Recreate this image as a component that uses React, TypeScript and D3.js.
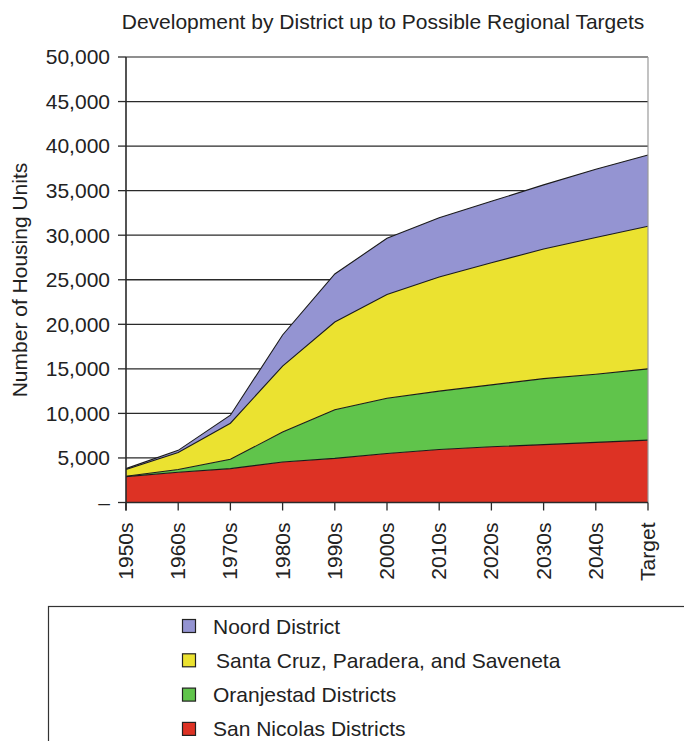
import React from "react";
import * as d3 from "d3";

const periods = ["1950s", "1960s", "1970s", "1980s", "1990s", "2000s", "2010s", "2020s", "2030s", "2040s", "Target"];

// Housing units added per district, by period (stacked bottom to top)
const sanNicolas = [2900, 3400, 3800, 4550, 4950, 5500, 5950, 6250, 6500, 6750, 7000];
const oranjestad = [50, 300, 1050, 3350, 5450, 6200, 6550, 6950, 7400, 7650, 8000];
const santaCruz = [750, 1900, 4050, 7400, 9850, 11650, 12800, 13700, 14550, 15350, 16000];
const noord = [100, 250, 900, 3500, 5400, 6300, 6650, 6900, 7200, 7650, 8000];

const yTicks = [0, 5000, 10000, 15000, 20000, 25000, 30000, 35000, 40000, 45000, 50000];

const seriesKeys = ["sanNicolas", "oranjestad", "santaCruz", "noord"];
const seriesNames: Record<string, string> = {
  noord: "Noord District",
  santaCruz: "Santa Cruz, Paradera, and Saveneta",
  oranjestad: "Oranjestad Districts",
  sanNicolas: "San Nicolas Districts",
};
const seriesColors: Record<string, string> = {
  sanNicolas: "#dd3224",
  oranjestad: "#60c44b",
  santaCruz: "#ebe230",
  noord: "#9494d2",
};
const legendOrder = ["noord", "santaCruz", "oranjestad", "sanNicolas"];

const FONT = "'Liberation Sans', Arial, Helvetica, sans-serif";

export default function App() {
  const width = 684;
  const height = 741;
  const left = 126;
  const right = 648;
  const top = 57;
  const bottom = 502.5;

  const rows = periods.map((p, i) => ({
    period: p,
    sanNicolas: sanNicolas[i],
    oranjestad: oranjestad[i],
    santaCruz: santaCruz[i],
    noord: noord[i],
  }));

  const x = d3.scalePoint<string>().domain(periods).range([left, right]);
  const y = d3.scaleLinear().domain([0, 50000]).range([bottom, top]);

  const stacked = d3.stack<any>().keys(seriesKeys)(rows);

  const area = d3
    .area<any>()
    .x((d) => x(d.data.period) as number)
    .y0((d) => y(d[0]))
    .y1((d) => y(d[1]));

  const topLine = d3
    .line<any>()
    .x((d) => x(d.data.period) as number)
    .y((d) => y(d[1]));

  const fmt = (v: number) => (v === 0 ? "–" : d3.format(",")(v));

  return (
    <svg
      width={width}
      height={height}
      style={{ position: "absolute", left: 0, top: 0, background: "#fff" }}
      fontFamily={FONT}
    >
      <rect x={0} y={0} width={width} height={height} fill="#fff" />

      {/* title */}
      <text x={383} y={29} textAnchor="middle" fontSize={21} fill="#222">
        Development by District up to Possible Regional Targets
      </text>

      {/* horizontal gridlines, behind the areas */}
      {yTicks
        .filter((t) => t > 0)
        .map((t) => (
          <line
            key={t}
            x1={left}
            x2={right}
            y1={y(t)}
            y2={y(t)}
            stroke={t === 50000 ? "#6a6a6a" : "#2a2a2a"}
            strokeWidth={1.3}
          />
        ))}

      {/* stacked areas */}
      {stacked.map((s) => (
        <path key={s.key} d={area(s) || ""} fill={seriesColors[s.key]} stroke="none" />
      ))}
      {stacked.map((s) => (
        <path key={s.key + "-edge"} d={topLine(s) || ""} fill="none" stroke="#1a1a1a" strokeWidth={1.1} />
      ))}

      {/* right frame edge */}
      <line x1={right} x2={right} y1={top} y2={bottom} stroke="#9a9a9a" strokeWidth={1.2} />

      {/* y axis */}
      <line x1={left} x2={left} y1={top} y2={bottom + 8} stroke="#2a2a2a" strokeWidth={1.6} />
      {yTicks.map((t) => (
        <g key={"yt" + t}>
          <line x1={left - 8} x2={left} y1={y(t)} y2={y(t)} stroke="#2a2a2a" strokeWidth={1.3} />
          <text x={left - 16} y={y(t)} dy="0.35em" textAnchor="end" fontSize={21} fill="#222">
            {fmt(t)}
          </text>
        </g>
      ))}

      {/* x axis */}
      <line x1={left} x2={right} y1={bottom} y2={bottom} stroke="#2a2a2a" strokeWidth={1.6} />
      {periods.map((p) => (
        <g key={"xt" + p}>
          <line x1={x(p)} x2={x(p)} y1={bottom} y2={bottom + 8} stroke="#2a2a2a" strokeWidth={1.3} />
          <text
            transform={`translate(${(x(p) as number) + 7},${bottom + 20}) rotate(-90)`}
            textAnchor="end"
            fontSize={21}
            fill="#222"
          >
            {p}
          </text>
        </g>
      ))}

      {/* y axis title */}
      <text transform="translate(27,280) rotate(-90)" textAnchor="middle" fontSize={21} fill="#222">
        Number of Housing Units
      </text>

      {/* legend */}
      <rect x={48.5} y={606.5} width={700} height={200} fill="none" stroke="#333" strokeWidth={1.2} />
      {legendOrder.map((k, i) => {
        const cy = 626 + i * 34.3;
        return (
          <g key={"lg" + k}>
            <rect x={182.5} y={cy - 6.5} width={13} height={13} fill={seriesColors[k]} stroke="#222" strokeWidth={1.2} />
            <text x={k === "santaCruz" ? 216 : 213} y={cy} dy="0.36em" fontSize={21} fill="#222">
              {seriesNames[k]}
            </text>
          </g>
        );
      })}
    </svg>
  );
}
